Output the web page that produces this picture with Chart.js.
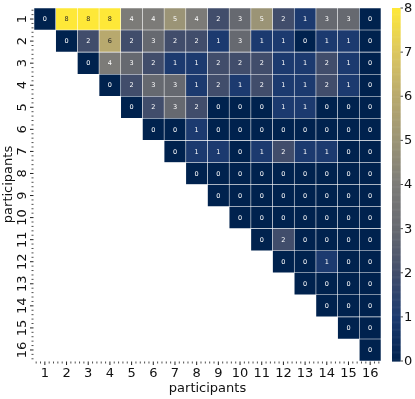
<!DOCTYPE html>
<html>
<head>
<meta charset="utf-8">
<script src="https://cdn.jsdelivr.net/npm/chart.js@4/dist/chart.umd.min.js"></script>
<style>
  html, body { margin: 0; padding: 0; background: #fff; }
  #wrap { width: 415px; height: 399px; position: relative; }
</style>
</head>
<body>
<div id="wrap"><canvas id="c" width="415" height="399"></canvas></div>
<script>
// ---- data ----
const participants = ['1','2','3','4','5','6','7','8','9','10','11','12','13','14','15','16'];
// each row starts at the diagonal (row i begins at column i)
const row1  = [0,8,8,8,4,4,5,4,2,3,5,2,1,3,3,0];
const row2  = [0,2,6,2,3,2,2,1,3,1,1,0,1,1,0];
const row3  = [0,4,3,2,1,1,2,2,2,1,1,2,1,0];
const row4  = [0,2,3,3,1,2,1,2,1,1,2,1,0];
const row5  = [0,2,3,2,0,0,0,1,1,0,0,0];
const row6  = [0,0,1,0,0,0,0,0,0,0,0];
const row7  = [0,1,1,0,1,2,1,1,0,0];
const row8  = [0,0,0,0,0,0,0,0,0];
const row9  = [0,0,0,0,0,0,0,0];
const row10 = [0,0,0,0,0,0,0];
const row11 = [0,2,0,0,0,0];
const row12 = [0,0,1,0,0];
const row13 = [0,0,0,0];
const row14 = [0,0,0];
const row15 = [0,0];
const row16 = [0];
const colorbarTicks = [0,1,2,3,4,5,6,7,8];
const vmin = 0, vmax = 8;

const rows = [row1,row2,row3,row4,row5,row6,row7,row8,row9,row10,row11,row12,row13,row14,row15,row16];
const counts = rows.map((r, i) => participants.map((_, c) => c >= i ? r[c - i] : null));

// cividis-like colormap
const cmapStops = [
  [0.000, [0, 34, 78]],
  [0.125, [28, 58, 111]],
  [0.250, [65, 77, 107]],
  [0.375, [102, 105, 112]],
  [0.500, [124, 123, 120]],
  [0.625, [155, 148, 118]],
  [0.750, [184, 169, 110]],
  [0.875, [220, 199, 96]],
  [1.000, [254, 232, 56]]
];
function cmap(v) {
  let t = (v - vmin) / (vmax - vmin);
  t = Math.max(0, Math.min(1, t));
  for (let i = 1; i < cmapStops.length; i++) {
    if (t <= cmapStops[i][0]) {
      const [t0, c0] = cmapStops[i-1], [t1, c1] = cmapStops[i];
      const f = (t - t0) / (t1 - t0);
      const c = c0.map((x, k) => Math.round(x + (c1[k] - x) * f));
      return `rgb(${c[0]},${c[1]},${c[2]})`;
    }
  }
  return 'rgb(254,232,56)';
}

const datasets = counts.map((r, i) => ({
  label: participants[i],
  data: r.map(v => v === null ? null : [i + 0.5, i + 1.5]),
  values: r,
  backgroundColor: r.map(v => v === null ? 'rgba(0,0,0,0)' : cmap(v)),
  borderColor: 'rgba(255,255,255,0.10)',
  borderWidth: 0.6,
  borderSkipped: false,
  grouped: false,
  barPercentage: 1,
  categoryPercentage: 1
}));

const FONT = "'DejaVu Sans', sans-serif";
const FS = 13;

const heatPlugin = {
  id: 'heat',
  afterDatasetsDraw(chart) {
    const ctx = chart.ctx;
    ctx.save();
    ctx.font = "6.5px " + FONT;
    ctx.textAlign = 'center';
    ctx.textBaseline = 'middle';
    chart.data.datasets.forEach((ds, i) => {
      const meta = chart.getDatasetMeta(i);
      meta.data.forEach((el, c) => {
        const v = ds.values[c];
        if (v === null || v === undefined) return;
        const p = el.getCenterPoint();
        ctx.fillStyle = v >= 6 ? '#262626' : '#ffffff';
        ctx.fillText(String(v), p.x, p.y + 0.5);
      });
    });
    ctx.restore();
  },
  afterDraw(chart) {
    const ctx = chart.ctx;
    const xs = chart.scales.x, ys = chart.scales.y, cb = chart.scales.cb;
    const area = chart.chartArea;
    ctx.save();
    // ticks (major + minor) on left and bottom
    ctx.strokeStyle = '#222';
    for (let i = 0; i < participants.length; i++) {
      for (let k = -2; k <= 2; k++) {
        const major = k === 0;
        const len = major ? 3.5 : 2;
        ctx.lineWidth = major ? 1 : 0.8;
        const vx = i + k * 0.2;
        const px = xs.getPixelForValue(vx);
        ctx.beginPath();
        ctx.moveTo(px, area.bottom + 0.5);
        ctx.lineTo(px, area.bottom + 0.5 + len);
        ctx.stroke();
        const vy = i + 1 + k * 0.2;
        const py = ys.getPixelForValue(vy);
        ctx.beginPath();
        ctx.moveTo(area.left - 0.5, py);
        ctx.lineTo(area.left - 0.5 - len, py);
        ctx.stroke();
      }
    }
    // y tick labels, rotated
    ctx.fillStyle = '#111';
    ctx.font = FS + "px " + FONT;
    ctx.textAlign = 'center';
    ctx.textBaseline = 'middle';
    participants.forEach((lab, i) => {
      const py = ys.getPixelForValue(i + 1);
      ctx.save();
      ctx.translate(area.left - 11, py);
      ctx.rotate(-Math.PI / 2);
      ctx.fillText(lab, 0, 0);
      ctx.restore();
    });
    // colorbar
    const cbx = 392, cbw = 8.5;
    const step = 0.02;
    for (let v = vmin; v < vmax - 1e-9; v += step) {
      const y0 = cb.getPixelForValue(v), y1 = cb.getPixelForValue(Math.min(vmax, v + step));
      ctx.fillStyle = cmap(v + step / 2);
      ctx.fillRect(cbx, y1, cbw, y0 - y1 + 0.6);
    }
    ctx.strokeStyle = '#222';
    ctx.lineWidth = 0.8;
    ctx.fillStyle = '#111';
    ctx.font = FS + "px " + FONT;
    ctx.textAlign = 'left';
    ctx.textBaseline = 'middle';
    colorbarTicks.forEach(v => {
      const py = cb.getPixelForValue(v);
      ctx.beginPath();
      ctx.moveTo(cbx + cbw, py);
      ctx.lineTo(cbx + cbw + 2.5, py);
      ctx.stroke();
      ctx.fillText(String(v), cbx + cbw + 3.5, py + 0.5);
    });
    ctx.restore();
  }
};

new Chart(document.getElementById('c'), {
  type: 'bar',
  data: { labels: participants, datasets },
  plugins: [heatPlugin],
  options: {
    responsive: false,
    animation: false,
    events: [],
    layout: { padding: { top: 8, right: 0, bottom: 0, left: 0 } },
    plugins: { legend: { display: false }, tooltip: { enabled: false } },
    scales: {
      x: {
        type: 'category',
        offset: true,
        grid: { display: false, drawTicks: false },
        border: { display: false },
        ticks: { font: { family: FONT, size: FS }, color: '#111', padding: 5, maxRotation: 0 },
        title: { display: true, text: 'participants', font: { family: FONT, size: FS }, color: '#111', padding: { top: 0, bottom: 3 } },
        afterFit(s) { s.height = 38; }
      },
      y: {
        type: 'linear',
        position: 'left',
        reverse: true,
        min: 0.5,
        max: 16.5,
        grid: { display: false, drawTicks: false },
        border: { display: false },
        ticks: { display: false },
        title: { display: true, text: 'participants', font: { family: FONT, size: FS }, color: '#111', padding: { top: 1, bottom: 0 } },
        afterFit(s) { s.width = 34; }
      },
      cb: {
        type: 'linear',
        position: 'right',
        min: vmin,
        max: vmax,
        grid: { display: false, drawTicks: false },
        border: { display: false },
        ticks: { display: false },
        afterFit(s) { s.width = 34; }
      }
    }
  }
});
</script>
</body>
</html>
